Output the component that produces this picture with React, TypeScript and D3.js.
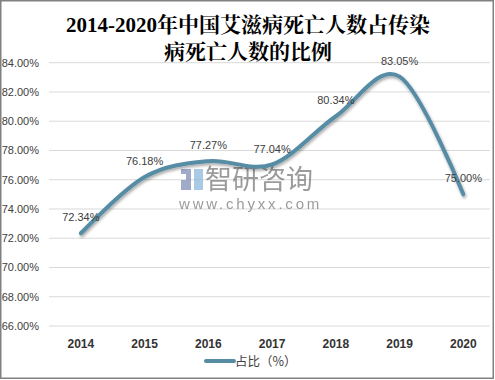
import React from "react";
import * as d3 from "d3";

const years = ["2014", "2015", "2016", "2017", "2018", "2019", "2020"];
const shares = [72.34, 76.18, 77.27, 77.04, 80.34, 83.05, 75.0];
const yTicks = [66, 68, 70, 72, 74, 76, 78, 80, 82, 84];
const titleLines = ["2014-2020年中国艾滋病死亡人数占传染", "病死亡人数的比例"];
const seriesName = "占比（%）";

const W = 495;
const H = 380;
const LINE = "#568ca4";

export default function App() {
  const x = d3.scalePoint<string>().domain(years).range([49, 495.2]).padding(0.5);
  const y = d3.scaleLinear().domain([66, 84]).range([326, 62.7]);
  const line = d3
    .line<number>()
    .x((_, i) => x(years[i]) as number)
    .y((d) => y(d))
    .curve(d3.curveCatmullRom.alpha(0));
  const path = line(shares) || "";

  return (
    <svg
      width={W}
      height={H}
      style={{ position: "absolute", left: 0, top: 0, background: "#fff" }}
      fontFamily="'Liberation Sans', Arial, 'Noto Sans CJK SC', sans-serif"
    >
      <defs>
        <filter id="sh" x="-10%" y="-10%" width="120%" height="130%">
          <feDropShadow dx="1" dy="2" stdDeviation="1.5" floodColor="#000" floodOpacity="0.35" />
        </filter>
      </defs>
      <rect x={0} y={0} width={W} height={H} fill="#fff" />
      <rect x={0.75} y={0.75} width={492.5} height={377.5} fill="none" stroke="#808080" strokeWidth={1.5} />

      {titleLines.map((t, i) => (
        <text
          key={i}
          x={248}
          y={32 + i * 27}
          textAnchor="middle"
          fontSize={21}
          fontWeight="bold"
          fontFamily="'Liberation Serif', 'Noto Serif CJK SC', 'Noto Sans CJK SC', serif"
          fill="#000"
        >
          {t}
        </text>
      ))}

      {yTicks.map((t) => (
        <g key={t}>
          <line x1={49} x2={490} y1={y(t)} y2={y(t)} stroke="#d9d9d9" strokeWidth={1} />
          <text x={39} y={y(t) + 4} textAnchor="end" fontSize={11} fill="#404040">
            {t.toFixed(2)}%
          </text>
        </g>
      ))}

      {years.map((yr) => (
        <text key={yr} x={x(yr)} y={348} textAnchor="middle" fontSize={12} fontWeight="bold" fill="#333">
          {yr}
        </text>
      ))}

      {/* watermark */}
      <g opacity={0.75}>
        <rect x={181} y={169} width={10} height={5} fill="#7f8fb8" />
        <rect x={186} y={174} width={5} height={6} fill="#7f8fb8" />
        <rect x={181} y={180} width={10} height={10} fill="#7f8fb8" />
        <rect x={194} y={169} width={9} height={21} fill="#8db8dc" />
        <text x={205} y={189} fontSize={27} fill="#7a7a7a" fontFamily="'Noto Sans CJK SC', sans-serif">
          智研咨询
        </text>
        <text x={179} y={209} fontSize={15} fill="#7a7a7a" letterSpacing={2.8}>
          www.chyxx.com
        </text>
      </g>

      <path d={path} fill="none" stroke={LINE} strokeWidth={4} strokeLinecap="round" filter="url(#sh)" />

      {shares.map((v, i) => (
        <text key={i} x={x(years[i])} y={y(v) - 12} textAnchor="middle" fontSize={11} fill="#404040">
          {v.toFixed(2)}%
        </text>
      ))}

      <line x1={206} x2={234} y1={361} y2={361} stroke={LINE} strokeWidth={4} strokeLinecap="round" />
      <text x={235} y={365.5} fontSize={12.5} fill="#404040" fontFamily="'Noto Sans CJK SC', sans-serif">
        {seriesName}
      </text>
    </svg>
  );
}
